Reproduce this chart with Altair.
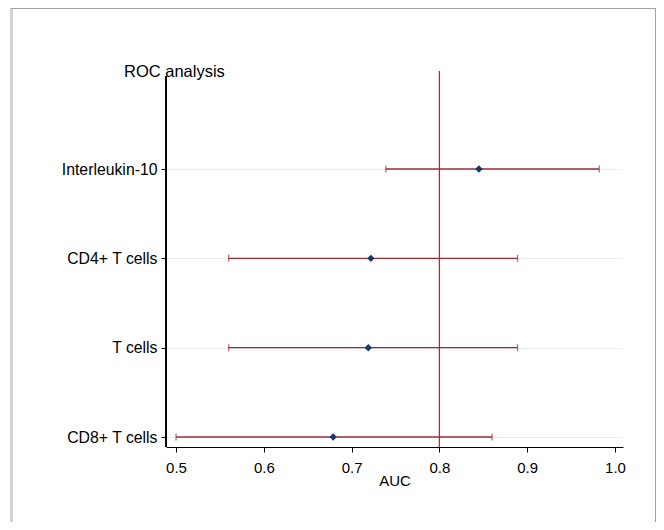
import altair as alt
import pandas as pd
import json

categories = ["Interleukin-10", "CD4+ T cells", "T cells", "CD8+ T cells"]
auc = [0.845, 0.722, 0.719, 0.679]
lower = [0.739, 0.560, 0.560, 0.500]
upper = [0.982, 0.889, 0.889, 0.860]
reference = 0.8
x_ticks = [0.5, 0.6, 0.7, 0.8, 0.9, 1.0]
title_text = "ROC analysis"

n = len(categories)
df = pd.DataFrame({"cat": categories, "pos": [n - 1 - i for i in range(n)],
                   "auc": auc, "lo": lower, "hi": upper})

W, H = 457, 370
FONT = "Liberation Sans"

xs = alt.Scale(domain=[0.48861, 1.00911], nice=False, zero=False)
ys = alt.Scale(domain=[-0.1119, 4.0299], nice=False, zero=False)
names_by_pos = list(reversed(categories))
label_expr = json.dumps(names_by_pos) + "[datum.value]"

base = alt.Chart(df)

rows = base.mark_tick(opacity=0).encode(
    x=alt.X("auc:Q", scale=xs, axis=alt.Axis(
        values=x_ticks, format=".1f", title="AUC", grid=False,
        domainColor="black", domainWidth=1.2, tickColor="black", tickSize=5,
        labelFont=FONT, labelFontSize=15, labelColor="black", labelPadding=8,
        titleFont=FONT, titleFontSize=15, titleFontWeight="normal", titleColor="black",
        titlePadding=-2)),
    y=alt.Y("pos:Q", scale=ys, axis=alt.Axis(
        values=list(range(n)), labelExpr=label_expr,
        title=None, domain=False, grid=True, gridColor="#e6eff1", gridWidth=1.2,
        tickColor="black", tickSize=5, labelFont=FONT, labelFontSize=15.8,
        labelColor="black", labelPadding=4)),
)

yaxis_line = base.mark_rule(color="black", strokeWidth=1.2).encode(
    x=alt.value(0), y=alt.value(-1), y2=alt.value(H))

ref = alt.Chart(pd.DataFrame({"v": [reference]})).mark_rule(
    color="#c8203c", strokeWidth=1.3).encode(
    x=alt.X("v:Q", scale=xs), y=alt.value(-6), y2=alt.value(H))

ci = base.mark_rule(color="#9c2b36", strokeWidth=1.3).encode(
    x=alt.X("lo:Q", scale=xs), x2="hi:Q", y=alt.Y("pos:Q", scale=ys))

cap_lo = base.mark_tick(color="#9c2b36", thickness=1.3, size=7, orient="vertical").encode(
    x=alt.X("lo:Q", scale=xs), y=alt.Y("pos:Q", scale=ys))
cap_hi = base.mark_tick(color="#9c2b36", thickness=1.3, size=7, orient="vertical").encode(
    x=alt.X("hi:Q", scale=xs), y=alt.Y("pos:Q", scale=ys))

pts = base.mark_point(shape="diamond", filled=True, size=55, color="#123a6a", opacity=1).encode(
    x=alt.X("auc:Q", scale=xs), y=alt.Y("pos:Q", scale=ys))

title = alt.Chart(pd.DataFrame({"t": [title_text]})).mark_text(
    font=FONT, fontSize=16.5, align="left", baseline="alphabetic", color="black").encode(
    x=alt.value(-42), y=alt.value(0), text="t:N")

# screenshot frame
frame_left = base.mark_rule(color="#d4d4d4", strokeWidth=2).encode(
    x=alt.value(-154.5), y=alt.value(-69), y2=alt.value(H + 80))
frame_top = base.mark_rule(color="#a0a0a0", strokeWidth=1).encode(
    x=alt.value(-155), x2=alt.value(489.5), y=alt.value(-68.5))
frame_right = base.mark_rule(color="#a0a0a0", strokeWidth=1).encode(
    x=alt.value(489.5), y=alt.value(-69), y2=alt.value(H + 80))

chart = alt.layer(rows, ref, ci, cap_lo, cap_hi, pts, yaxis_line, title,
                  frame_left, frame_top, frame_right).properties(
    width=W, height=H,
    background="white",
    autosize=alt.AutoSizeParams(type="none"),
    padding={"left": 158, "top": 69, "right": 33, "bottom": 75},
).configure_view(stroke=None)

chart.save("out.html", embed_options={"renderer": "svg", "actions": False})
